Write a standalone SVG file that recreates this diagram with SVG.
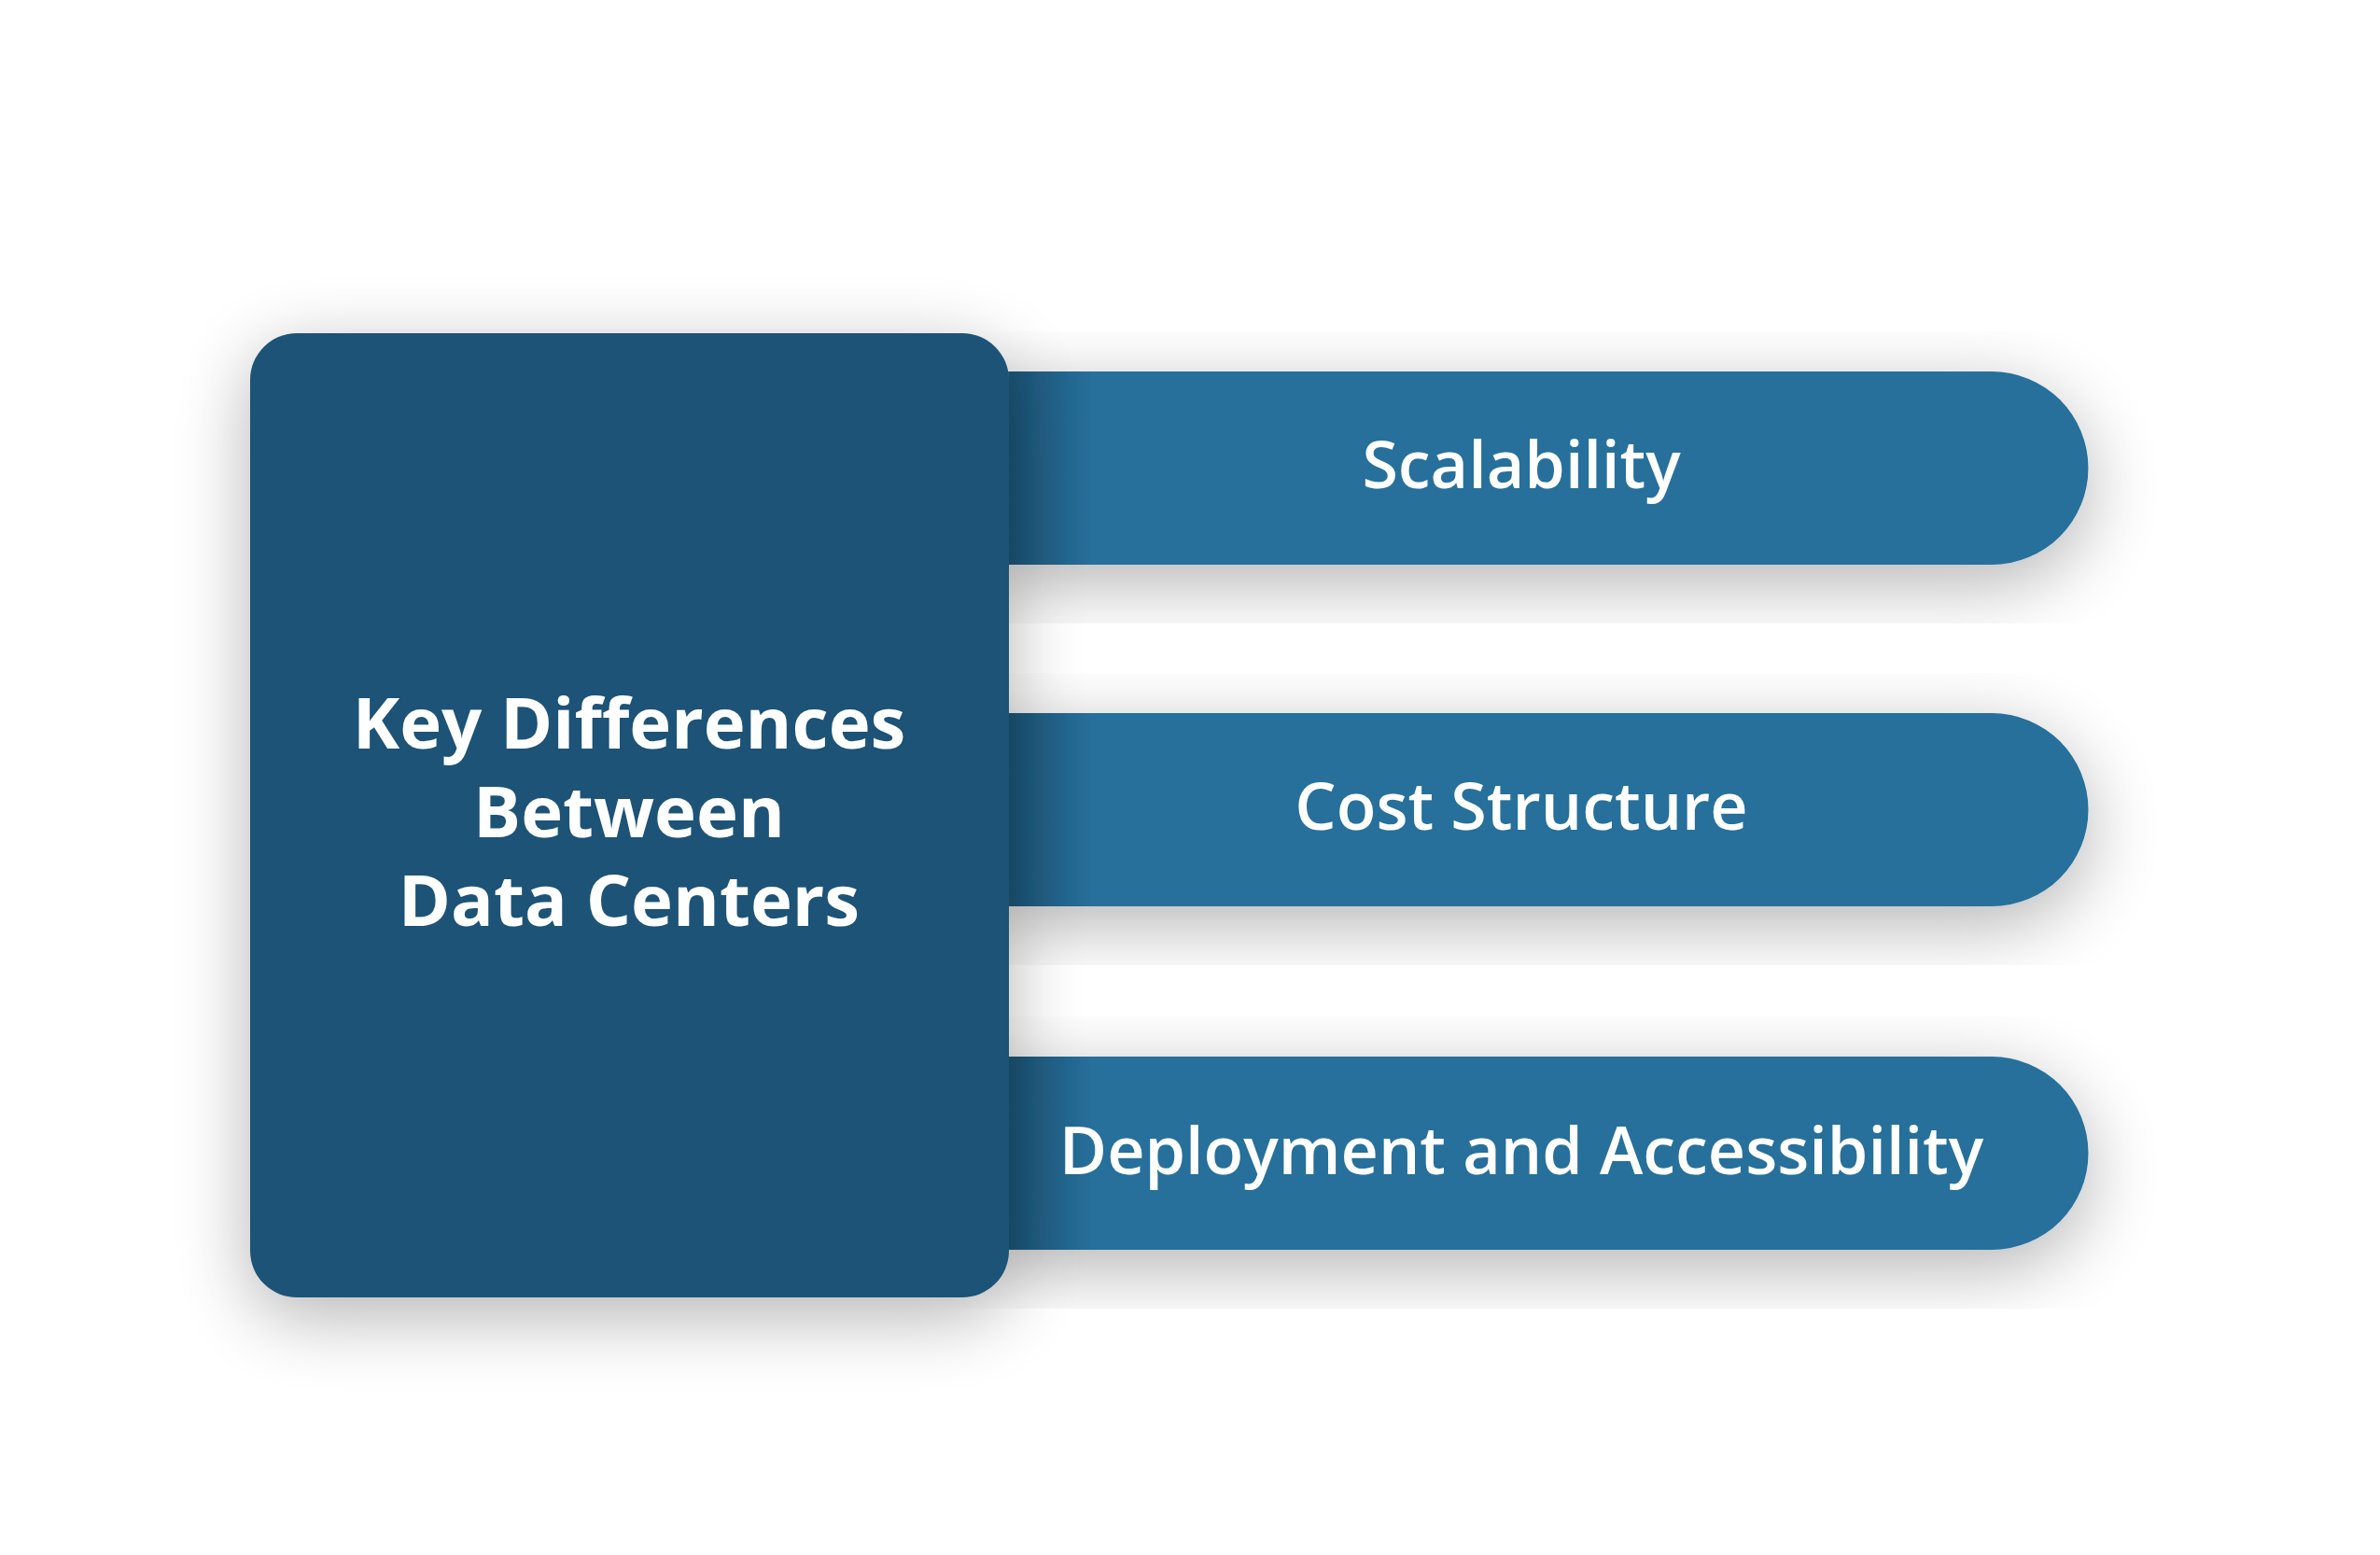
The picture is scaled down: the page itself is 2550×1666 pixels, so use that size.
<svg xmlns="http://www.w3.org/2000/svg" width="2550" height="1666" viewBox="0 0 2550 1666">
<defs>
<filter id="sh" x="-30%" y="-30%" width="160%" height="160%"><feGaussianBlur in="SourceAlpha" stdDeviation="40"/><feOffset dx="0" dy="20"/><feComponentTransfer><feFuncA type="linear" slope="0.3"/></feComponentTransfer><feMerge><feMergeNode/><feMergeNode in="SourceGraphic"/></feMerge></filter>
<linearGradient id="edge" x1="0" x2="1" y1="0" y2="0"><stop offset="0" stop-color="#000" stop-opacity="0.25"/><stop offset="1" stop-color="#000" stop-opacity="0"/></linearGradient>
<style>
.bar{fill:#266F9B}
.lbl{font-family:"Open Sans","Liberation Sans",sans-serif;font-size:70px;font-weight:600;fill:#fff;text-anchor:middle}
.ttl{font-family:"Open Sans","Liberation Sans",sans-serif;font-size:76px;font-weight:700;fill:#fff;text-anchor:middle}
</style>
</defs>
<rect width="2550" height="1666" fill="#fff"/>
<g id="bar1" filter="url(#sh)"><path class="bar" d="M1060 398 H2134 A103.5 103.5 0 0 1 2134 605 H1060 Z"/><rect x="1081" y="398" width="90" height="207" fill="url(#edge)"/><text class="lbl" x="1630" y="523">Scalability</text></g>
<g id="bar2" filter="url(#sh)"><path class="bar" d="M1060 764 H2134 A103.5 103.5 0 0 1 2134 971 H1060 Z"/><rect x="1081" y="764" width="90" height="207" fill="url(#edge)"/><text class="lbl" x="1630" y="889">Cost Structure</text></g>
<g id="bar3" filter="url(#sh)"><path class="bar" d="M1060 1132 H2134 A103.5 103.5 0 0 1 2134 1339 H1060 Z"/><rect x="1081" y="1132" width="90" height="207" fill="url(#edge)"/><text class="lbl" x="1630" y="1258">Deployment and Accessibility</text></g>
<g id="main" filter="url(#sh)"><rect x="268" y="357" width="813" height="1033" rx="50" fill="#1F5377"/>
<text class="ttl" x="674" y="802">Key Differences</text><text class="ttl" x="674" y="897">Between</text><text class="ttl" x="674" y="992">Data Centers</text></g>
<g id="connectors"/>
</svg>
